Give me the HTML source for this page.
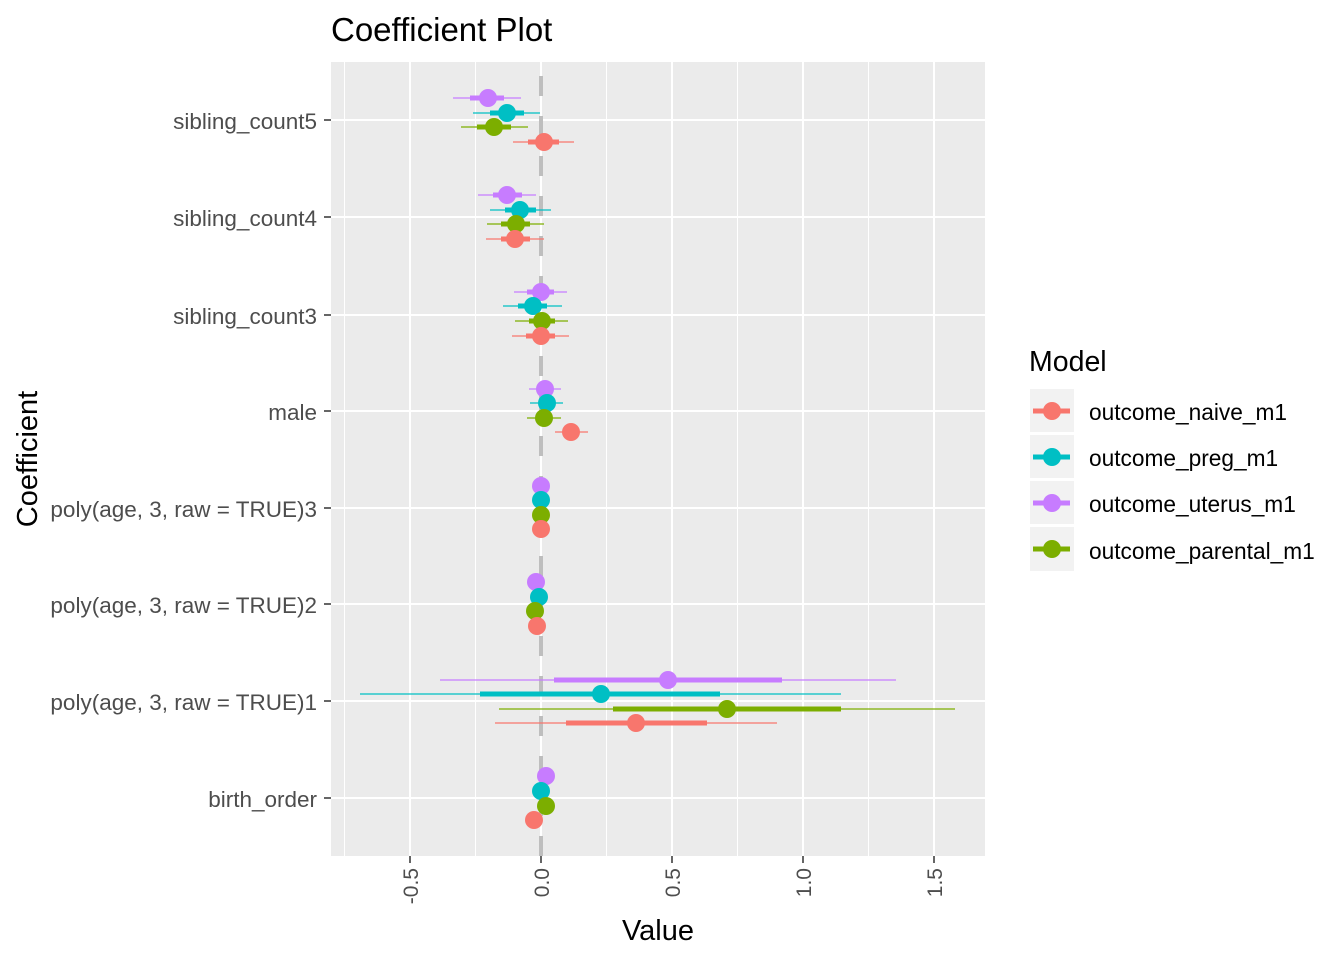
<!DOCTYPE html>
<html><head><meta charset="utf-8"><style>body{margin:0;background:#fff}svg{display:block}text{font-family:"Liberation Sans",Arial,sans-serif}</style></head>
<body>
<svg width="1344" height="960" viewBox="0 0 1344 960">
<rect width="1344" height="960" fill="#fff"/>
<text x="331" y="41" font-size="33" fill="#000">Coefficient Plot</text>
<rect x="331" y="62" width="654" height="794" fill="#ebebeb"/>
<g stroke="#fff" stroke-width="1">
<line x1="344.5" y1="62" x2="344.5" y2="856"/><line x1="475.5" y1="62" x2="475.5" y2="856"/><line x1="606.5" y1="62" x2="606.5" y2="856"/><line x1="737.5" y1="62" x2="737.5" y2="856"/><line x1="868.5" y1="62" x2="868.5" y2="856"/>
</g>
<g stroke="#fff" stroke-width="2">
<line x1="410" y1="62" x2="410" y2="856"/><line x1="541" y1="62" x2="541" y2="856"/><line x1="672" y1="62" x2="672" y2="856"/><line x1="803" y1="62" x2="803" y2="856"/><line x1="934" y1="62" x2="934" y2="856"/>
<line x1="331" y1="120" x2="985" y2="120"/><line x1="331" y1="217" x2="985" y2="217"/><line x1="331" y1="315" x2="985" y2="315"/><line x1="331" y1="411" x2="985" y2="411"/><line x1="331" y1="508" x2="985" y2="508"/><line x1="331" y1="604" x2="985" y2="604"/><line x1="331" y1="701" x2="985" y2="701"/><line x1="331" y1="798" x2="985" y2="798"/>
</g>
<line x1="541" y1="76" x2="541" y2="856" stroke="#bebebe" stroke-width="4" stroke-dasharray="20 20"/>
<g>
<g stroke="#C77CFF" fill="#C77CFF"><line x1="453" y1="98" x2="521" y2="98" stroke-width="1.2"/><line x1="470" y1="98" x2="504" y2="98" stroke-width="5"/><circle cx="488" cy="98" r="9" stroke="none"/></g>
<g stroke="#00BFC4" fill="#00BFC4"><line x1="473" y1="113" x2="540" y2="113" stroke-width="1.2"/><line x1="490" y1="113" x2="524" y2="113" stroke-width="5"/><circle cx="507" cy="113" r="9" stroke="none"/></g>
<g stroke="#7CAE00" fill="#7CAE00"><line x1="461" y1="127" x2="528" y2="127" stroke-width="1.2"/><line x1="477" y1="127" x2="511" y2="127" stroke-width="5"/><circle cx="494" cy="127" r="9" stroke="none"/></g>
<g stroke="#F8766D" fill="#F8766D"><line x1="513" y1="142" x2="574" y2="142" stroke-width="1.2"/><line x1="528" y1="142" x2="559" y2="142" stroke-width="5"/><circle cx="544" cy="142" r="9" stroke="none"/></g>
<g stroke="#C77CFF" fill="#C77CFF"><line x1="478" y1="195" x2="536" y2="195" stroke-width="1.2"/><line x1="493" y1="195" x2="522" y2="195" stroke-width="5"/><circle cx="507" cy="195" r="9" stroke="none"/></g>
<g stroke="#00BFC4" fill="#00BFC4"><line x1="490" y1="210" x2="551" y2="210" stroke-width="1.2"/><line x1="505" y1="210" x2="536" y2="210" stroke-width="5"/><circle cx="520" cy="210" r="9" stroke="none"/></g>
<g stroke="#7CAE00" fill="#7CAE00"><line x1="487" y1="224" x2="544" y2="224" stroke-width="1.2"/><line x1="501" y1="224" x2="530" y2="224" stroke-width="5"/><circle cx="516" cy="224" r="9" stroke="none"/></g>
<g stroke="#F8766D" fill="#F8766D"><line x1="486" y1="239" x2="544" y2="239" stroke-width="1.2"/><line x1="501" y1="239" x2="530" y2="239" stroke-width="5"/><circle cx="515" cy="239" r="9" stroke="none"/></g>
<g stroke="#C77CFF" fill="#C77CFF"><line x1="514" y1="292" x2="567" y2="292" stroke-width="1.2"/><line x1="527" y1="292" x2="554" y2="292" stroke-width="5"/><circle cx="541" cy="292" r="9" stroke="none"/></g>
<g stroke="#00BFC4" fill="#00BFC4"><line x1="503" y1="306" x2="562" y2="306" stroke-width="1.2"/><line x1="518" y1="306" x2="547" y2="306" stroke-width="5"/><circle cx="533" cy="306" r="9" stroke="none"/></g>
<g stroke="#7CAE00" fill="#7CAE00"><line x1="515" y1="321" x2="568" y2="321" stroke-width="1.2"/><line x1="529" y1="321" x2="555" y2="321" stroke-width="5"/><circle cx="542" cy="321" r="9" stroke="none"/></g>
<g stroke="#F8766D" fill="#F8766D"><line x1="512" y1="336" x2="569" y2="336" stroke-width="1.2"/><line x1="526" y1="336" x2="555" y2="336" stroke-width="5"/><circle cx="541" cy="336" r="9" stroke="none"/></g>
<g stroke="#C77CFF" fill="#C77CFF"><line x1="529" y1="389" x2="561" y2="389" stroke-width="1.2"/><line x1="537" y1="389" x2="553" y2="389" stroke-width="5"/><circle cx="545" cy="389" r="9" stroke="none"/></g>
<g stroke="#00BFC4" fill="#00BFC4"><line x1="530" y1="403" x2="563" y2="403" stroke-width="1.2"/><line x1="539" y1="403" x2="555" y2="403" stroke-width="5"/><circle cx="547" cy="403" r="9" stroke="none"/></g>
<g stroke="#7CAE00" fill="#7CAE00"><line x1="527" y1="418" x2="561" y2="418" stroke-width="1.2"/><line x1="536" y1="418" x2="552" y2="418" stroke-width="5"/><circle cx="544" cy="418" r="9" stroke="none"/></g>
<g stroke="#F8766D" fill="#F8766D"><line x1="555" y1="432" x2="588" y2="432" stroke-width="1.2"/><line x1="563" y1="432" x2="579" y2="432" stroke-width="5"/><circle cx="571" cy="432" r="9" stroke="none"/></g>
<circle cx="541" cy="486" r="9" fill="#C77CFF"/><circle cx="541" cy="500" r="9" fill="#00BFC4"/><circle cx="541" cy="515" r="9" fill="#7CAE00"/><circle cx="541" cy="529" r="9" fill="#F8766D"/>
<circle cx="536" cy="582" r="9" fill="#C77CFF"/><circle cx="539" cy="597" r="9" fill="#00BFC4"/><circle cx="535" cy="611" r="9" fill="#7CAE00"/><circle cx="537" cy="626" r="9" fill="#F8766D"/>
<g stroke="#C77CFF" fill="#C77CFF"><line x1="440" y1="680" x2="896" y2="680" stroke-width="1.2"/><line x1="554" y1="680" x2="782" y2="680" stroke-width="5"/><circle cx="668" cy="680" r="9" stroke="none"/></g>
<g stroke="#00BFC4" fill="#00BFC4"><line x1="360" y1="694" x2="841" y2="694" stroke-width="1.2"/><line x1="480" y1="694" x2="720" y2="694" stroke-width="5"/><circle cx="601" cy="694" r="9" stroke="none"/></g>
<g stroke="#7CAE00" fill="#7CAE00"><line x1="499" y1="709" x2="955" y2="709" stroke-width="1.2"/><line x1="613" y1="709" x2="841" y2="709" stroke-width="5"/><circle cx="727" cy="709" r="9" stroke="none"/></g>
<g stroke="#F8766D" fill="#F8766D"><line x1="495" y1="723" x2="777" y2="723" stroke-width="1.2"/><line x1="566" y1="723" x2="707" y2="723" stroke-width="5"/><circle cx="636" cy="723" r="9" stroke="none"/></g>
<circle cx="546" cy="776" r="9" fill="#C77CFF"/><circle cx="541" cy="791" r="9" fill="#00BFC4"/><circle cx="546" cy="806" r="9" fill="#7CAE00"/><circle cx="534" cy="820" r="9" fill="#F8766D"/>
</g>
<g stroke="#333" stroke-width="1.5">
<line x1="324" y1="120" x2="331" y2="120"/><line x1="324" y1="217" x2="331" y2="217"/><line x1="324" y1="315" x2="331" y2="315"/><line x1="324" y1="411" x2="331" y2="411"/><line x1="324" y1="508" x2="331" y2="508"/><line x1="324" y1="604" x2="331" y2="604"/><line x1="324" y1="701" x2="331" y2="701"/><line x1="324" y1="798" x2="331" y2="798"/>
<line x1="410" y1="856" x2="410" y2="863"/><line x1="541" y1="856" x2="541" y2="863"/><line x1="672" y1="856" x2="672" y2="863"/><line x1="803" y1="856" x2="803" y2="863"/><line x1="934" y1="856" x2="934" y2="863"/>
</g>
<g font-size="22.5" fill="#4d4d4d" text-anchor="end">
<text x="317" y="129">sibling_count5</text><text x="317" y="226">sibling_count4</text><text x="317" y="324">sibling_count3</text><text x="317" y="420">male</text><text x="317" y="517">poly(age, 3, raw = TRUE)3</text><text x="317" y="613">poly(age, 3, raw = TRUE)2</text><text x="317" y="710">poly(age, 3, raw = TRUE)1</text><text x="317" y="807">birth_order</text>
</g>
<g font-size="21" fill="#4d4d4d" text-anchor="end">
<text transform="translate(418,868) rotate(-90)">-0.5</text><text transform="translate(549,868) rotate(-90)">0.0</text><text transform="translate(680,868) rotate(-90)">0.5</text><text transform="translate(811,868) rotate(-90)">1.0</text><text transform="translate(942,868) rotate(-90)">1.5</text>
</g>
<text x="658" y="940" font-size="29" text-anchor="middle" fill="#000">Value</text>
<text transform="translate(37,459) rotate(-90)" font-size="29" text-anchor="middle" fill="#000">Coefficient</text>
<text x="1029" y="371" font-size="28.5" fill="#000">Model</text>
<g>
<rect x="1030" y="389" width="44" height="43" fill="#f2f2f2"/><rect x="1030" y="435" width="44" height="43" fill="#f2f2f2"/><rect x="1030" y="481" width="44" height="43" fill="#f2f2f2"/><rect x="1030" y="527" width="44" height="44" fill="#f2f2f2"/>
<line x1="1033" y1="411" x2="1070" y2="411" stroke="#F8766D" stroke-width="5"/><circle cx="1052" cy="411" r="9" fill="#F8766D"/>
<line x1="1033" y1="457" x2="1070" y2="457" stroke="#00BFC4" stroke-width="5"/><circle cx="1052" cy="457" r="9" fill="#00BFC4"/>
<line x1="1033" y1="503" x2="1070" y2="503" stroke="#C77CFF" stroke-width="5"/><circle cx="1052" cy="503" r="9" fill="#C77CFF"/>
<line x1="1033" y1="549" x2="1070" y2="549" stroke="#7CAE00" stroke-width="5"/><circle cx="1052" cy="549" r="9" fill="#7CAE00"/>
</g>
<g font-size="22.7" fill="#000">
<text x="1089" y="420">outcome_naive_m1</text><text x="1089" y="466">outcome_preg_m1</text><text x="1089" y="512">outcome_uterus_m1</text><text x="1089" y="559">outcome_parental_m1</text>
</g>
</svg>
</body></html>
